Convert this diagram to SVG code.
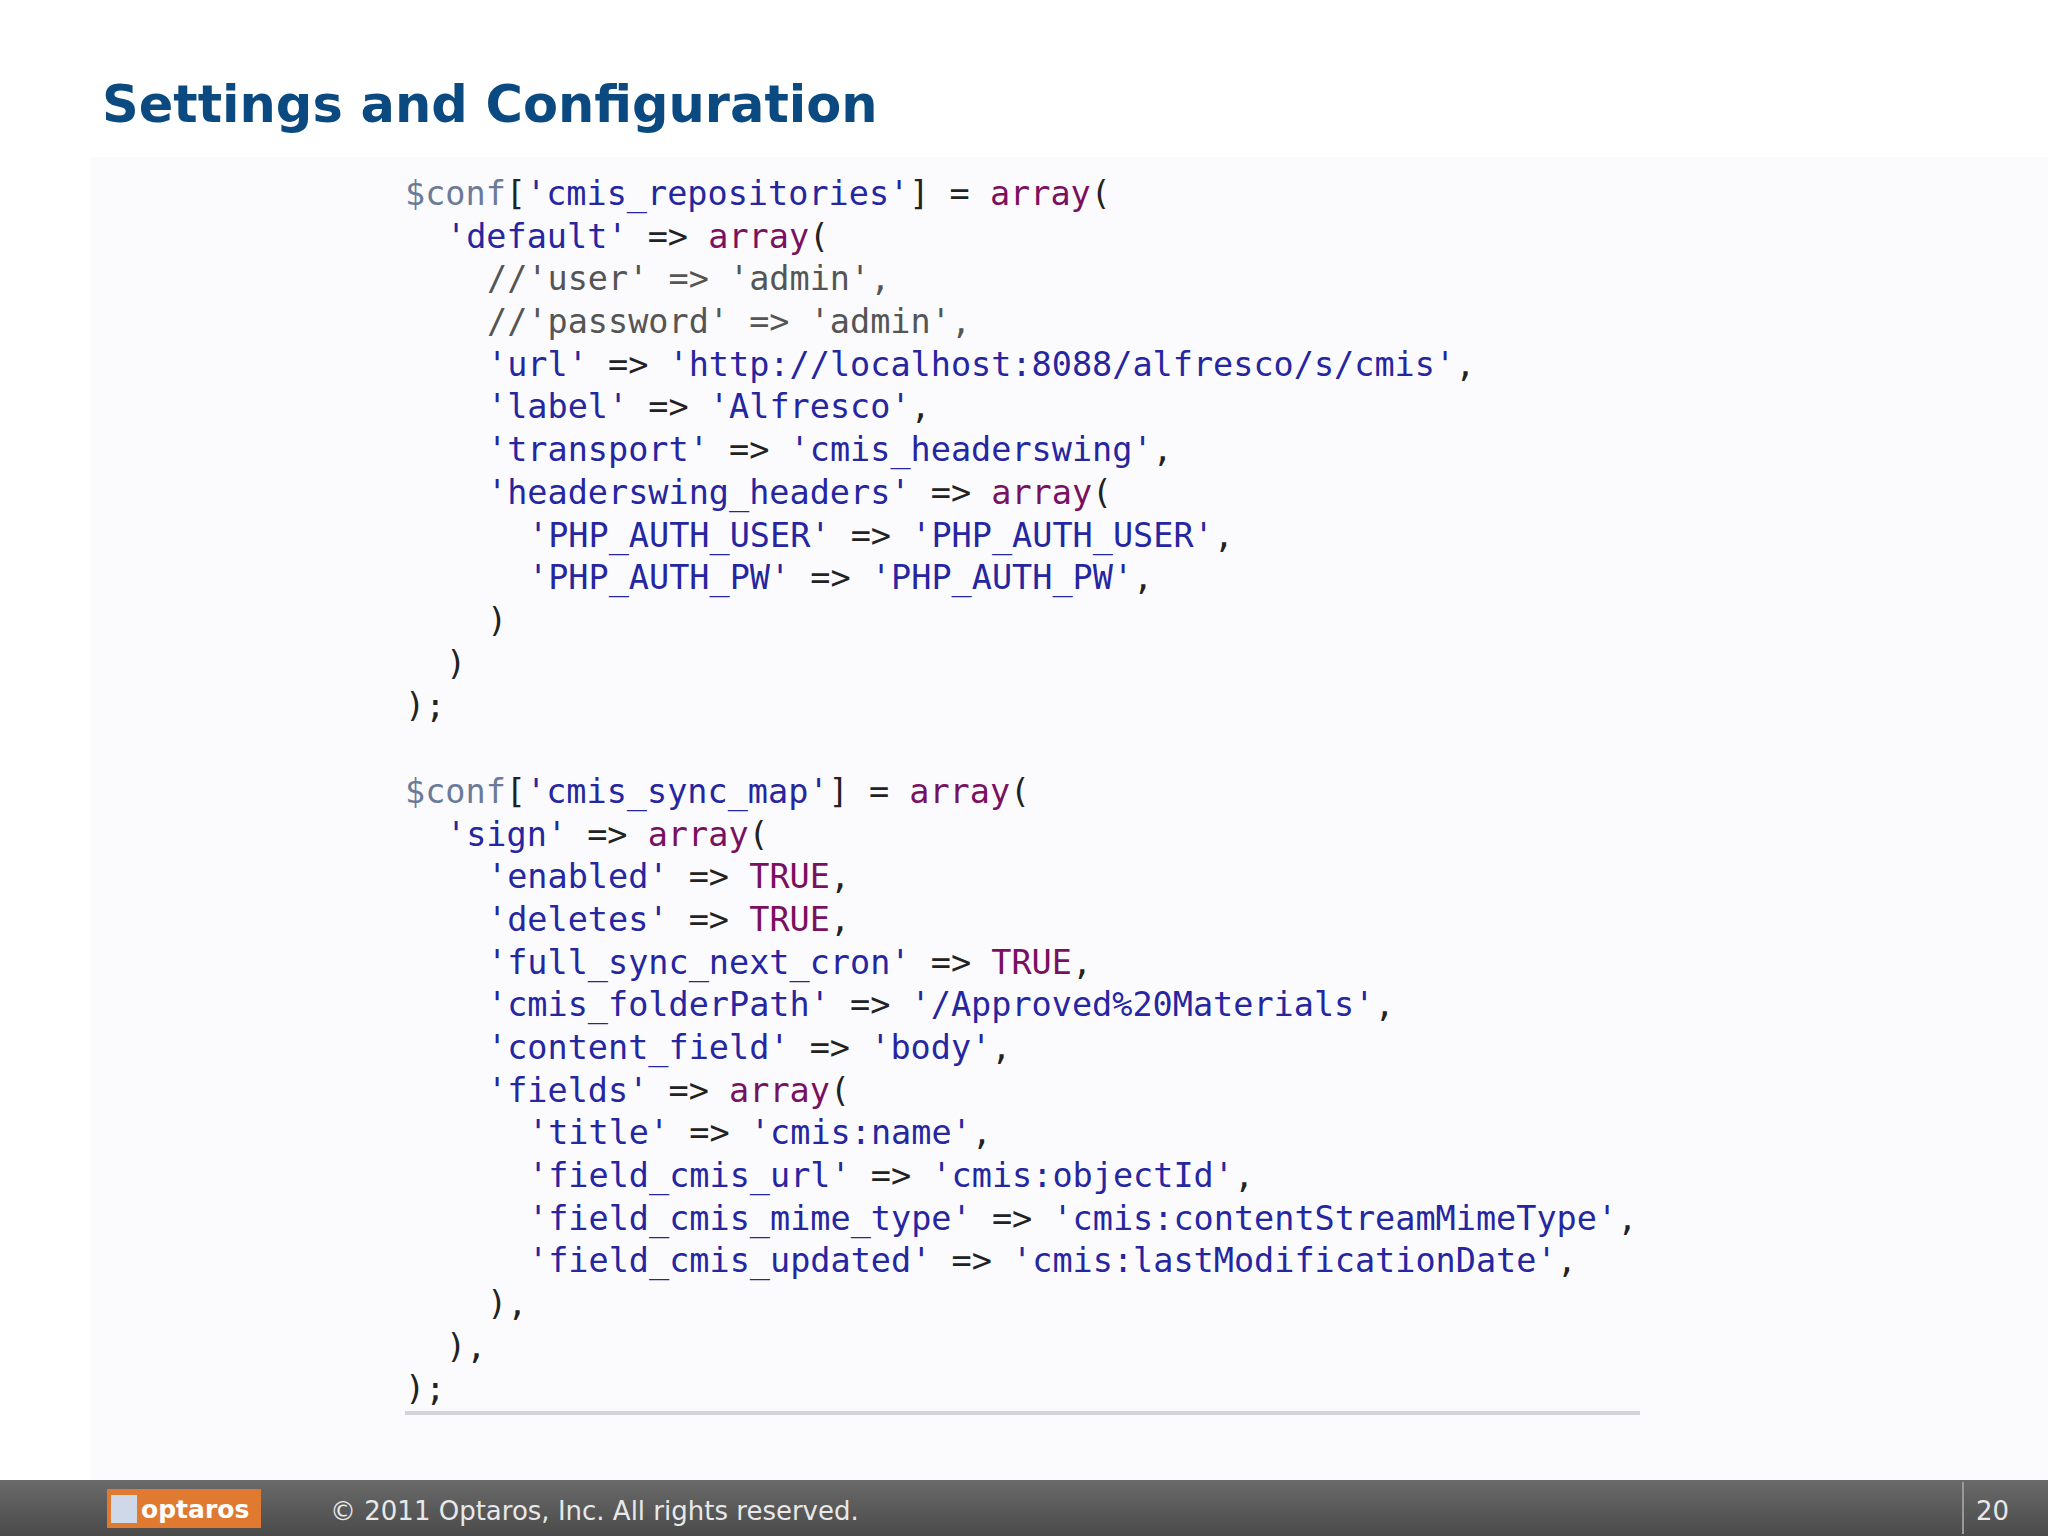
<svg xmlns="http://www.w3.org/2000/svg" width="2048" height="1536" viewBox="0 0 2048 1536">
<style>
.code{font-family:"DejaVu Sans Mono",monospace;font-size:33.5px;fill:#222}
.s{fill:#2626a0}.k{fill:#7a1060}.v{fill:#6b7a98}.c{fill:#555}
.t{font-family:Verdana,"DejaVu Sans",sans-serif;font-weight:bold;font-size:51px;fill:#0b4a80}
.f{font-family:Verdana,"DejaVu Sans",sans-serif;font-size:26px;fill:#e8e8e8}
</style>
<defs><linearGradient id="g" x1="0" y1="0" x2="0" y2="1"><stop offset="0" stop-color="#6a6a6a"/><stop offset="1" stop-color="#4a4a4a"/></linearGradient></defs>
<rect width="2048" height="1536" fill="#fff"/>
<rect x="91" y="157" width="1957" height="1323" fill="#fbfbfd"/>
<text class="t" x="102" y="122">Settings and Configuration</text>
<g id="code" class="code">
<text x="405" y="205"><tspan class="v">$conf</tspan>[<tspan class="s">'cmis_repositories'</tspan>] = <tspan class="k">array</tspan>(</text>
<text x="446" y="248"><tspan class="s">'default'</tspan> =&gt; <tspan class="k">array</tspan>(</text>
<text x="487" y="290"><tspan class="c">//'user' =&gt; 'admin',</tspan></text>
<text x="487" y="333"><tspan class="c">//'password' =&gt; 'admin',</tspan></text>
<text x="487" y="376"><tspan class="s">'url'</tspan> =&gt; <tspan class="s">'http://localhost:8088/alfresco/s/cmis'</tspan>,</text>
<text x="487" y="418"><tspan class="s">'label'</tspan> =&gt; <tspan class="s">'Alfresco'</tspan>,</text>
<text x="487" y="461"><tspan class="s">'transport'</tspan> =&gt; <tspan class="s">'cmis_headerswing'</tspan>,</text>
<text x="487" y="504"><tspan class="s">'headerswing_headers'</tspan> =&gt; <tspan class="k">array</tspan>(</text>
<text x="528" y="547"><tspan class="s">'PHP_AUTH_USER'</tspan> =&gt; <tspan class="s">'PHP_AUTH_USER'</tspan>,</text>
<text x="528" y="589"><tspan class="s">'PHP_AUTH_PW'</tspan> =&gt; <tspan class="s">'PHP_AUTH_PW'</tspan>,</text>
<text x="487" y="632">)</text>
<text x="446" y="675">)</text>
<text x="405" y="717">);</text>
<text x="405" y="803"><tspan class="v">$conf</tspan>[<tspan class="s">'cmis_sync_map'</tspan>] = <tspan class="k">array</tspan>(</text>
<text x="446" y="846"><tspan class="s">'sign'</tspan> =&gt; <tspan class="k">array</tspan>(</text>
<text x="487" y="888"><tspan class="s">'enabled'</tspan> =&gt; <tspan class="k">TRUE</tspan>,</text>
<text x="487" y="931"><tspan class="s">'deletes'</tspan> =&gt; <tspan class="k">TRUE</tspan>,</text>
<text x="487" y="974"><tspan class="s">'full_sync_next_cron'</tspan> =&gt; <tspan class="k">TRUE</tspan>,</text>
<text x="487" y="1016"><tspan class="s">'cmis_folderPath'</tspan> =&gt; <tspan class="s">'/Approved%20Materials'</tspan>,</text>
<text x="487" y="1059"><tspan class="s">'content_field'</tspan> =&gt; <tspan class="s">'body'</tspan>,</text>
<text x="487" y="1102"><tspan class="s">'fields'</tspan> =&gt; <tspan class="k">array</tspan>(</text>
<text x="528" y="1144"><tspan class="s">'title'</tspan> =&gt; <tspan class="s">'cmis:name'</tspan>,</text>
<text x="528" y="1187"><tspan class="s">'field_cmis_url'</tspan> =&gt; <tspan class="s">'cmis:objectId'</tspan>,</text>
<text x="528" y="1230"><tspan class="s">'field_cmis_mime_type'</tspan> =&gt; <tspan class="s">'cmis:contentStreamMimeType'</tspan>,</text>
<text x="528" y="1272"><tspan class="s">'field_cmis_updated'</tspan> =&gt; <tspan class="s">'cmis:lastModificationDate'</tspan>,</text>
<text x="487" y="1315">),</text>
<text x="446" y="1358">),</text>
<text x="405" y="1400">);</text>
</g>
<rect x="405" y="1411" width="1235" height="4" fill="#d4d4d8"/>
<rect x="0" y="1480" width="2048" height="56" fill="url(#g)"/>
<g id="logo">
<rect x="107" y="1489" width="154" height="39" fill="#e07a30"/>
<rect x="111" y="1495" width="26" height="28" fill="#cfd8e8"/>
<text x="141" y="1518" font-family="Verdana,DejaVu Sans,sans-serif" font-size="25" font-weight="bold" fill="#fff">optaros</text>
</g>
<text class="f" x="330" y="1520">© 2011 Optaros, Inc. All rights reserved.</text>
<rect x="1962" y="1482" width="2" height="52" fill="#999"/>
<text class="f" x="1976" y="1520">20</text>
</svg>
